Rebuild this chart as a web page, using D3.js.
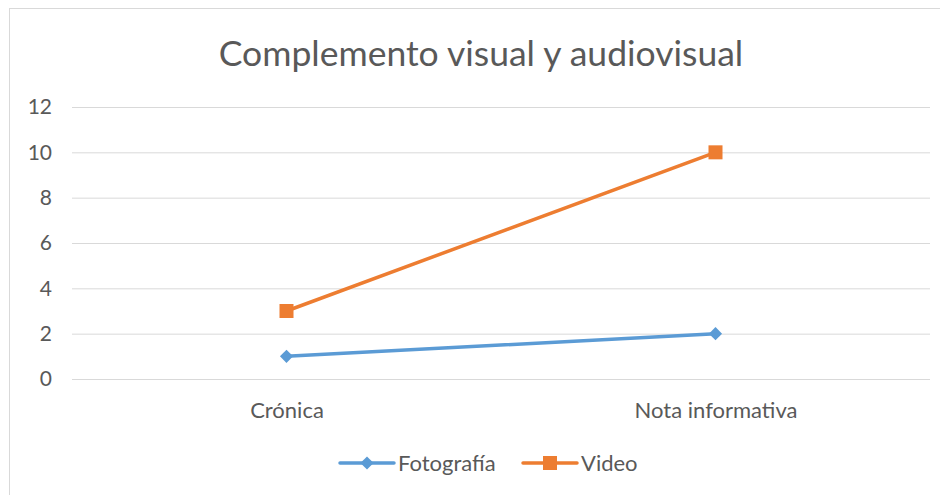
<!DOCTYPE html>
<html><head><meta charset="utf-8">
<script src="https://cdn.jsdelivr.net/npm/d3@7"></script>
<style>body{margin:0;background:#fff}svg{display:block}text{font-family:Lato,sans-serif;fill:#595959}</style>
</head><body>
<svg id="c" width="940" height="495"></svg>
<script>
const categories = ["Crónica", "Nota informativa"];
const fotografia = [1, 2];
const video = [3, 10];
const yTicks = [0, 2, 4, 6, 8, 10, 12];
const seriesNames = ["Fotografía", "Video"];
const title = "Complemento visual y audiovisual";

const svg = d3.select("#c");
svg.append("rect").attr("x", 9.5).attr("y", 8.5).attr("width", 940).attr("height", 500)
  .attr("fill", "none").attr("stroke", "#d9d9d9");

const x = d3.scalePoint().domain(categories).range([72, 930]).padding(0.5);
const y = d3.scaleLinear().domain([0, 12]).range([379, 107]);

svg.append("text").attr("x", 481).attr("y", 66).attr("text-anchor", "middle")
  .style("font-size", "35.5px").text(title);

const gy = svg.append("g").attr("transform", "translate(72,0)")
  .call(d3.axisLeft(y).tickValues(yTicks).tickSize(-858).tickPadding(20));
gy.select(".domain").remove();
gy.selectAll(".tick line").attr("stroke", "#d9d9d9");
gy.selectAll(".tick text").style("font-size", "21px").attr("fill", "#595959").style("font-family", "Lato");

const gx = svg.append("g").attr("transform", "translate(0,379)")
  .call(d3.axisBottom(x).tickSize(0).tickPadding(23));
gx.select(".domain").remove();
gx.selectAll(".tick text").style("font-size", "22px").attr("fill", "#595959").style("font-family", "Lato");

const series = [
  {name: seriesNames[0], values: fotografia, color: "#5B9BD5", shape: "diamond"},
  {name: seriesNames[1], values: video, color: "#ED7D31", shape: "square"}
];
const line = d3.line().x((d, i) => x(categories[i])).y(d => y(d));
function marker(g, shape, cx, cy, color) {
  if (shape === "square") {
    g.append("rect").attr("x", cx - 7).attr("y", cy - 7).attr("width", 14).attr("height", 14).attr("fill", color);
  } else {
    g.append("path").attr("d", d3.symbol(d3.symbolDiamond2, 110)()).attr("transform", `translate(${cx},${cy})`).attr("fill", color);
  }
}
series.forEach(s => {
  svg.append("path").datum(s.values).attr("d", line).attr("fill", "none")
    .attr("stroke", s.color).attr("stroke-width", 3.5).attr("stroke-linecap", "round");
  s.values.forEach((v, i) => marker(svg, s.shape, x(categories[i]), y(v), s.color));
});

const legX = [340, 523];
series.forEach((s, i) => {
  const g = svg.append("g");
  g.append("line").attr("x1", legX[i]).attr("x2", legX[i] + 54).attr("y1", 463).attr("y2", 463)
    .attr("stroke", s.color).attr("stroke-width", 3.5).attr("stroke-linecap", "round");
  marker(g, s.shape, legX[i] + 27, 463, s.color);
  g.append("text").attr("x", legX[i] + 58).attr("y", 471).style("font-size", "22px").text(s.name);
});
</script>
</body></html>
